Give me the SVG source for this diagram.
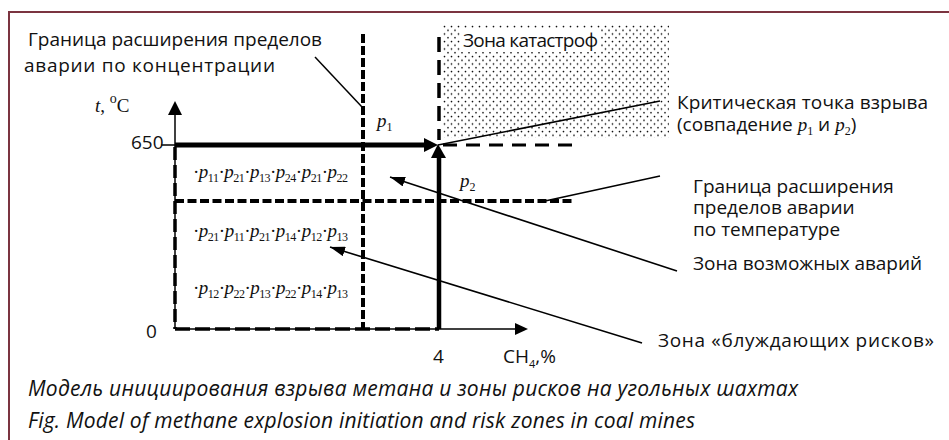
<svg xmlns="http://www.w3.org/2000/svg" width="949" height="440" viewBox="0 0 949 440">
<defs>
<style>
.lbl{font-family:"Open Sans","Noto Sans",sans-serif;font-size:19px;fill:#111}
.cap{font-family:"Open Sans","Noto Sans",sans-serif;font-size:21px;font-style:italic;fill:#111}
.m{font-family:"Liberation Serif","Times New Roman",serif;font-size:19px;fill:#111}
.mi{font-style:italic}
.sb{font-size:12px;font-style:normal}
.thin{stroke:#000;stroke-width:1.5;fill:none}
.ptr{stroke:#000;stroke-width:1.6;fill:none;marker-end:url(#ah)}
</style>
<marker id="ah" viewBox="0 0 15 10" refX="15" refY="5" markerWidth="15" markerHeight="10" markerUnits="userSpaceOnUse" orient="auto">
<path d="M0,0 L15,5 L0,10 z" fill="#000"/>
</marker>
<pattern id="dots" width="7" height="7.5" patternUnits="userSpaceOnUse" x="443" y="25">
<circle cx="1.5" cy="1.5" r="0.85" fill="#000"/>
<circle cx="5" cy="5.25" r="0.85" fill="#000"/>
</pattern>
</defs>
<rect width="949" height="440" fill="#fff"/>
<path d="M9,450 V12 H960" fill="none" stroke="#7b3440" stroke-width="2"/>

<g id="catastrophe-zone">
<rect x="443" y="25" width="226" height="113" fill="url(#dots)"/>
<rect x="461" y="28" width="139" height="24" fill="#fff"/>
<text class="lbl" x="463" y="47" textLength="135">Зона катастроф</text>
</g>

<g id="axes">
<line class="thin" x1="175" y1="329" x2="175" y2="113"/>
<path d="M175,101 L182,115 L168,115 z" fill="#000"/>
<line class="thin" x1="175" y1="329" x2="517" y2="329"/>
<path d="M528,329 L515,335 L515,323 z" fill="#000"/>
<line x1="161" y1="145" x2="175" y2="145" stroke="#000" stroke-width="1.5"/>
<text class="lbl" x="131" y="149">650</text>
<text class="lbl" x="146" y="338">0</text>
<text class="lbl" x="433" y="363">4</text>
<text class="lbl" x="503" y="363">CH<tspan font-size="11" dy="5">4</tspan><tspan dy="-5">,%</tspan></text>
<text class="m" x="95" y="112" font-size="23"><tspan class="mi">t</tspan>, <tspan font-size="14" dy="-9">o</tspan><tspan dy="9">C</tspan></text>
</g>

<g id="boundaries">
<line x1="363" y1="34" x2="363" y2="329" stroke="#000" stroke-width="4" stroke-dasharray="9 3"/>
<line x1="439" y1="37" x2="439" y2="140" stroke="#000" stroke-width="3.5" stroke-dasharray="15 8"/>
<line x1="443" y1="145" x2="580" y2="145" stroke="#000" stroke-width="3" stroke-dasharray="14 9"/>
<line x1="175" y1="201" x2="572" y2="201" stroke="#000" stroke-width="4" stroke-dasharray="9 3.5"/>
<line x1="175" y1="147" x2="175" y2="329" stroke="#000" stroke-width="3.5" stroke-dasharray="13 5"/>
<line x1="175" y1="329" x2="439" y2="329" stroke="#000" stroke-width="3.5" stroke-dasharray="15 5"/>
</g>

<g id="critical-path">
<line x1="175" y1="145" x2="426" y2="145" stroke="#000" stroke-width="5"/>
<path d="M438,145 L424,138 L424,152 z" fill="#000"/>
<line x1="439" y1="329" x2="439" y2="156" stroke="#000" stroke-width="4.5"/>
<path d="M438,144 L431,158 L446,158 z" fill="#000"/>
</g>

<g id="p-labels">
<text class="m mi" x="377" y="127">p<tspan class="sb" dy="4">1</tspan></text>
<text class="m mi" x="460" y="187">p<tspan class="sb" dy="4">2</tspan></text>
</g>

<g id="products">
<text class="m" x="193" y="178" textLength="155">·<tspan class="mi">p</tspan><tspan class="sb" dy="4">11</tspan><tspan dy="-4">·</tspan><tspan class="mi">p</tspan><tspan class="sb" dy="4">21</tspan><tspan dy="-4">·</tspan><tspan class="mi">p</tspan><tspan class="sb" dy="4">13</tspan><tspan dy="-4">·</tspan><tspan class="mi">p</tspan><tspan class="sb" dy="4">24</tspan><tspan dy="-4">·</tspan><tspan class="mi">p</tspan><tspan class="sb" dy="4">21</tspan><tspan dy="-4">·</tspan><tspan class="mi">p</tspan><tspan class="sb" dy="4">22</tspan></text>
<text class="m" x="193" y="237" textLength="155">·<tspan class="mi">p</tspan><tspan class="sb" dy="4">21</tspan><tspan dy="-4">·</tspan><tspan class="mi">p</tspan><tspan class="sb" dy="4">11</tspan><tspan dy="-4">·</tspan><tspan class="mi">p</tspan><tspan class="sb" dy="4">21</tspan><tspan dy="-4">·</tspan><tspan class="mi">p</tspan><tspan class="sb" dy="4">14</tspan><tspan dy="-4">·</tspan><tspan class="mi">p</tspan><tspan class="sb" dy="4">12</tspan><tspan dy="-4">·</tspan><tspan class="mi">p</tspan><tspan class="sb" dy="4">13</tspan></text>
<text class="m" x="193" y="294" textLength="155">·<tspan class="mi">p</tspan><tspan class="sb" dy="4">12</tspan><tspan dy="-4">·</tspan><tspan class="mi">p</tspan><tspan class="sb" dy="4">22</tspan><tspan dy="-4">·</tspan><tspan class="mi">p</tspan><tspan class="sb" dy="4">13</tspan><tspan dy="-4">·</tspan><tspan class="mi">p</tspan><tspan class="sb" dy="4">22</tspan><tspan dy="-4">·</tspan><tspan class="mi">p</tspan><tspan class="sb" dy="4">14</tspan><tspan dy="-4">·</tspan><tspan class="mi">p</tspan><tspan class="sb" dy="4">13</tspan></text>
</g>

<g id="connectors">
<line class="thin" x1="315" y1="57" x2="362" y2="107"/>
<line class="thin" x1="438" y1="145" x2="660" y2="101"/>
<line class="thin" x1="545" y1="201" x2="660" y2="176"/>
<line class="ptr" x1="677" y1="271" x2="390" y2="177"/>
<line class="ptr" x1="642" y1="343" x2="330" y2="247"/>
</g>

<g id="label-concentration">
<text class="lbl" x="28" y="46" textLength="294">Граница расширения пределов</text>
<text class="lbl" x="24" y="72" textLength="251">аварии по концентрации</text>
</g>
<g id="label-critical">
<text class="lbl" x="677" y="109" textLength="251">Критическая точка взрыва</text>
<text class="lbl" x="677" y="131">(совпадение <tspan class="m mi">p</tspan><tspan class="m sb" dy="4">1</tspan><tspan dy="-4"> и </tspan><tspan class="m mi">p</tspan><tspan class="m sb" dy="4">2</tspan><tspan dy="-4">)</tspan></text>
</g>
<g id="label-temperature">
<text class="lbl" x="693" y="193">Граница расширения</text>
<text class="lbl" x="693" y="214">пределов аварии</text>
<text class="lbl" x="693" y="236">по температуре</text>
</g>
<g id="label-possible">
<text class="lbl" x="693" y="270" textLength="229">Зона возможных аварий</text>
</g>
<g id="label-wandering">
<text class="lbl" x="658" y="347" textLength="276">Зона «блуждающих рисков»</text>
</g>
<g id="caption">
<text class="cap" x="28" y="396" textLength="770">Модель инициирования взрыва метана и зоны рисков на угольных шахтах</text>
<text class="cap" x="28" y="428" textLength="667">Fig. Model of methane explosion initiation and risk zones in coal mines</text>
</g>
</svg>
